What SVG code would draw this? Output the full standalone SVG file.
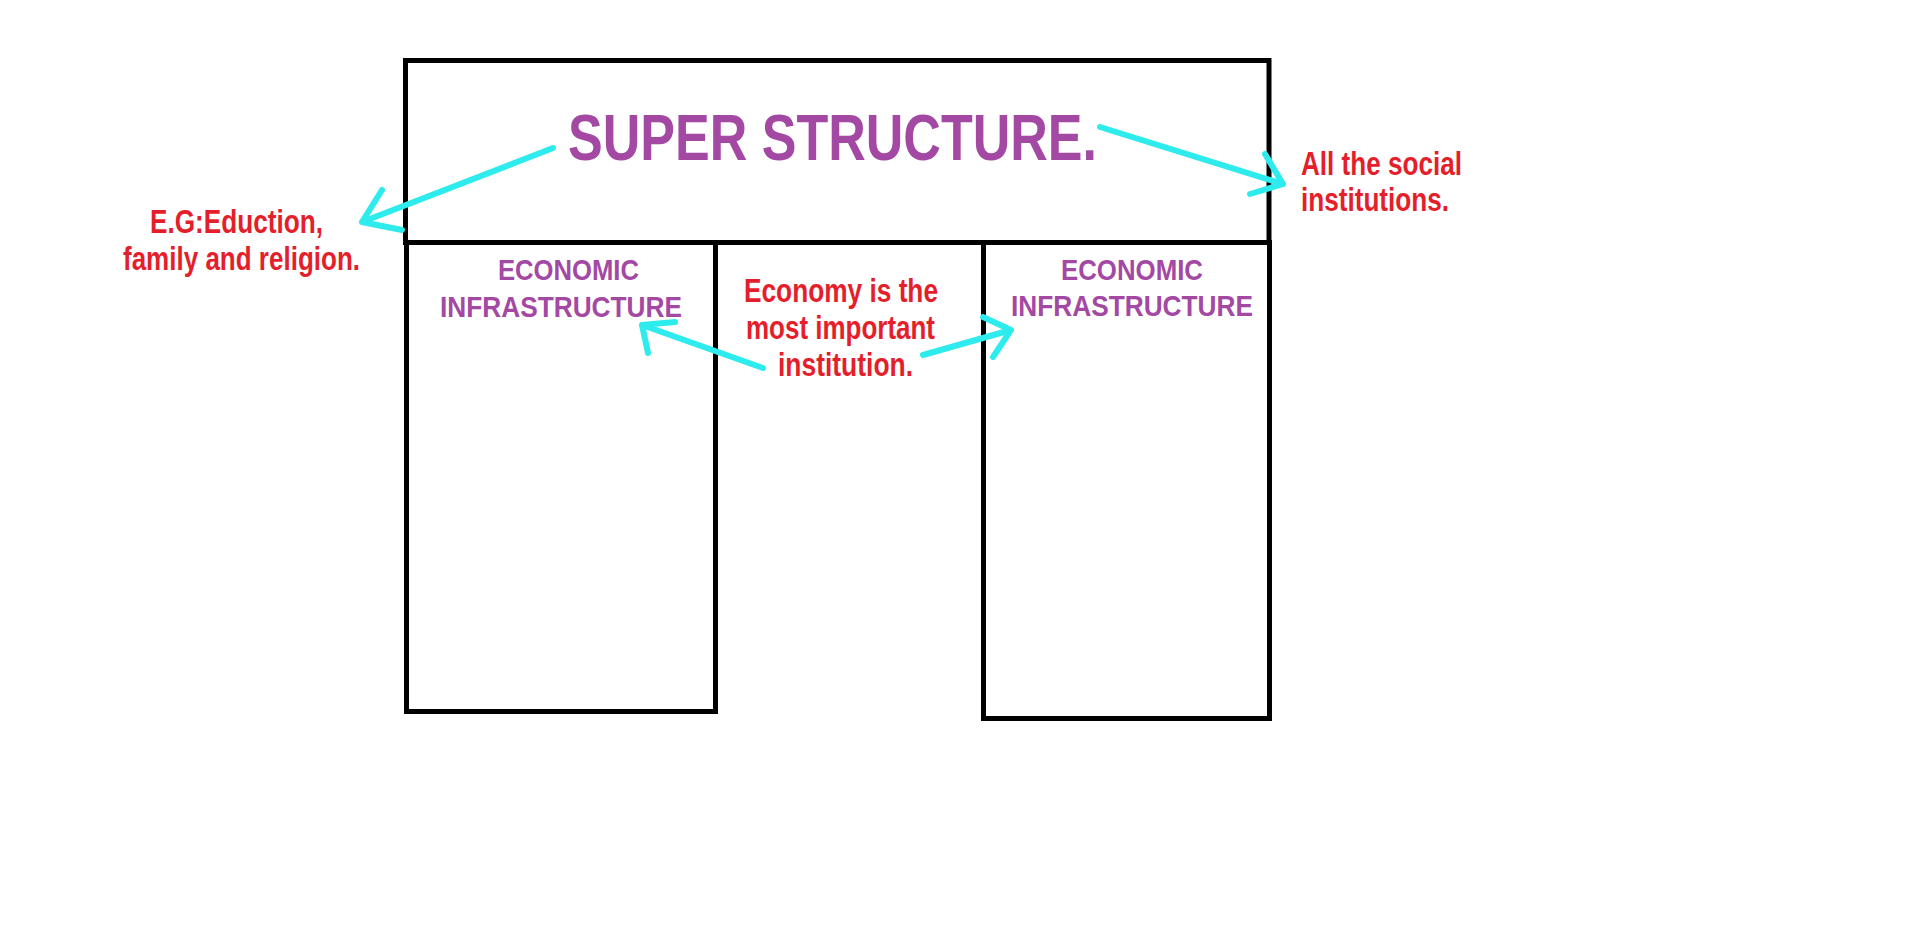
<svg xmlns="http://www.w3.org/2000/svg" width="1914" height="936" viewBox="0 0 1914 936">
<style>
.box{fill:none;stroke:#000;stroke-width:5;stroke-linejoin:miter}
.t{font-family:"Liberation Sans",Arial,sans-serif;font-weight:bold}
.title{fill:#A349A4;font-size:65px}
.eco{fill:#A349A4;font-size:30px}
.note{fill:#E41F2B;font-size:33px}
.arr{fill:none;stroke:#2EEBEE;stroke-width:6;stroke-linecap:round;stroke-linejoin:round}
</style>
<rect width="1914" height="936" fill="#fff"/>
<g id="superstructure">
<rect class="box" x="405.5" y="60.5" width="863.5" height="182"/>
<text class="t title" x="568" y="159.5" textLength="529" lengthAdjust="spacingAndGlyphs">SUPER STRUCTURE.</text>
</g>
<g id="infra-left">
<rect class="box" x="406.5" y="242.5" width="309" height="469"/>
<text class="t eco" x="498" y="280" textLength="141" lengthAdjust="spacingAndGlyphs">ECONOMIC</text>
<text class="t eco" x="440" y="316.5" textLength="242" lengthAdjust="spacingAndGlyphs">INFRASTRUCTURE</text>
</g>
<g id="infra-right">
<rect class="box" x="983.5" y="242.5" width="286" height="476"/>
<text class="t eco" x="1061" y="280" textLength="142" lengthAdjust="spacingAndGlyphs">ECONOMIC</text>
<text class="t eco" x="1011" y="315.5" textLength="242" lengthAdjust="spacingAndGlyphs">INFRASTRUCTURE</text>
</g>
<g id="note-examples">
<text class="t note" x="150" y="233" textLength="173" lengthAdjust="spacingAndGlyphs">E.G:Eduction,</text>
<text class="t note" x="123" y="270" textLength="237" lengthAdjust="spacingAndGlyphs">family and religion.</text>
</g>
<g id="note-social">
<text class="t note" x="1301" y="175" textLength="161" lengthAdjust="spacingAndGlyphs">All the social</text>
<text class="t note" x="1301" y="211" textLength="148" lengthAdjust="spacingAndGlyphs">institutions.</text>
</g>
<g id="note-economy">
<text class="t note" x="744" y="302" textLength="194" lengthAdjust="spacingAndGlyphs">Economy is the</text>
<text class="t note" x="746" y="339" textLength="189" lengthAdjust="spacingAndGlyphs">most important</text>
<text class="t note" x="778" y="376" textLength="135" lengthAdjust="spacingAndGlyphs">institution.</text>
</g>
<g id="connectors">
<path class="arr" d="M553,148 L362,222 M382,190 L362,222 L402,230"/>
<path class="arr" d="M1100,127 L1283,184 M1265,154 L1283,184 L1250,194"/>
<path class="arr" d="M763,368 L642,325 M675,322 L642,325 L648,353"/>
<path class="arr" d="M923,355 L1011,330 M983,317 L1011,330 L993,357"/>
</g>
</svg>
